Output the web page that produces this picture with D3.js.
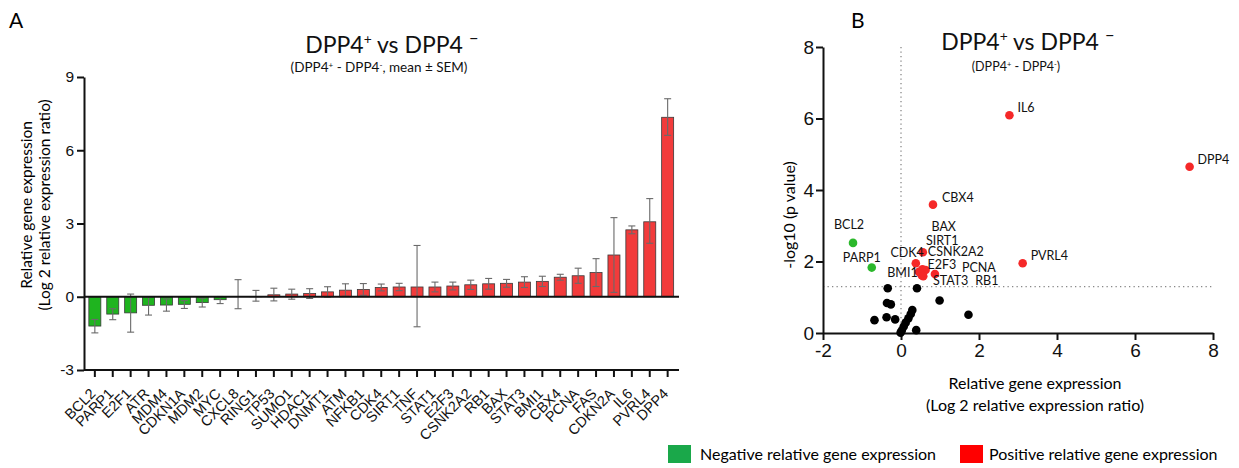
<!DOCTYPE html>
<html>
<head>
<meta charset="utf-8">
<script src="https://cdnjs.cloudflare.com/ajax/libs/d3/7.8.5/d3.min.js"></script>
<style>
  body { margin: 0; background: #fff; }
  svg { font-family: Lato, "Open Sans", sans-serif; }
  .axis path, .axis line { stroke: #111; stroke-width: 2; }
</style>
</head>
<body>
<svg id="chart" width="1239" height="468"></svg>
<script>
// ---- panel A data (bar chart) ----
var genes = ["BCL2", "PARP1", "E2F1", "ATR", "MDM4", "CDKN1A", "MDM2", "MYC", "CXCL8", "RING1",
  "TP53", "SUMO1", "HDAC1", "DNMT1", "ATM", "NFKB1", "CDK4", "SIRT1", "TNF", "STAT1", "E2F3",
  "CSNK2A2", "RB1", "BAX", "STAT3", "BMI1", "CBX4", "PCNA", "FAS", "CDKN2A", "IL6", "PVRL4", "DPP4"];
var means = [-1.20, -0.71, -0.66, -0.35, -0.34, -0.31, -0.24, -0.12, 0.00, 0.01,
  0.08, 0.11, 0.13, 0.20, 0.27, 0.30, 0.38, 0.40, 0.40, 0.40, 0.44,
  0.49, 0.53, 0.55, 0.60, 0.63, 0.80, 0.86, 0.99, 1.71, 2.74, 3.07, 7.35];
var errLow = [0.28, 0.23, 0.79, 0.40, 0.25, 0.17, 0.18, 0.16, 0.49, 0.19,
  0.25, 0.21, 0.20, 0.21, 0.25, 0.24, 0.14, 0.15, 1.63, 0.20, 0.16,
  0.19, 0.22, 0.16, 0.22, 0.21, 0.12, 0.31, 0.57, 1.53, 0.16, 0.88, 0.74];
var errHigh = [0.27, 0.22, 0.77, 0.33, 0.25, 0.15, 0.18, 0.13, 0.70, 0.25,
  0.27, 0.20, 0.20, 0.21, 0.26, 0.24, 0.14, 0.15, 1.70, 0.20, 0.16,
  0.19, 0.22, 0.16, 0.22, 0.21, 0.12, 0.31, 0.57, 1.53, 0.16, 0.95, 0.76];
var barTicks = [-3, 0, 3, 6, 9];

// ---- panel B data (volcano plot) ----
var sigGenes = ["BCL2", "PARP1", "CDK4", "SIRT1", "BAX", "CSNK2A2", "E2F3", "PCNA", "BMI1",
  "STAT3", "RB1", "CBX4", "IL6", "PVRL4", "DPP4"];
var sigX = [-1.23, -0.75, 0.38, 0.46, 0.55, 0.56, 0.63, 0.87, 0.53, 0.51, 0.57, 0.82, 2.78, 3.12, 7.40];
var sigY = [2.52, 1.83, 1.95, 1.71, 1.78, 2.26, 1.76, 1.65, 1.62, 1.67, 1.59, 3.59, 6.09, 1.95, 4.65];
var nsX = [-0.34, 0.41, 0.99, -0.36, -0.26, -0.68, -0.37, -0.15, 1.73, 0.39, 0.29, 0.25, 0.19, 0.12, 0.07, 0.02, -0.01];
var nsY = [1.25, 1.25, 0.91, 0.84, 0.80, 0.36, 0.44, 0.38, 0.51, 0.08, 0.64, 0.53, 0.41, 0.29, 0.18, 0.07, 0.01];
var volcanoXTicks = [-2, 0, 2, 4, 6, 8];
var volcanoYTicks = [0, 2, 4, 6, 8];
var pCutoff = 1.3;

var RED = "#f23b3b", GREEN = "#1fb41f";
var plain = function(d) { return String(d); };   // keep "-" hyphen like the original

var svg = d3.select("#chart");

// title with superscript signs
function addTitle(x, y, size) {
  var t = svg.append("text").attr("x", x).attr("y", y)
    .attr("text-anchor", "middle").style("font-size", size + "px").attr("fill", "#111");
  t.append("tspan").text("DPP4");
  t.append("tspan").text("+").attr("dy", -size * 0.38).style("font-size", (size * 0.6) + "px");
  t.append("tspan").text(" vs DPP4 ").attr("dy", size * 0.38);
  t.append("tspan").text("\u2013").attr("dy", -size * 0.38).style("font-size", (size * 0.75) + "px");
}
function addSub(x, y, rest, size) {
  var t = svg.append("text").attr("x", x).attr("y", y)
    .attr("text-anchor", "middle").style("font-size", size + "px").attr("fill", "#111");
  t.append("tspan").text("(DPP4");
  t.append("tspan").text("+").attr("dy", -4).style("font-size", (size * 0.6) + "px");
  t.append("tspan").text(" - DPP4").attr("dy", 4);
  t.append("tspan").text("-").attr("dy", -4).style("font-size", (size * 0.6) + "px");
  t.append("tspan").text(rest).attr("dy", 4);
}

// ================= Panel A =================
svg.append("text").attr("x", 9).attr("y", 28).text("A").style("font-size", "21px");
addTitle(392, 53, 23);
addSub(379, 72, ", mean \u00b1  SEM)", 13.5);

var x = d3.scaleBand()
  .domain(genes)
  .range([85.9, 676.6])
  .paddingInner(0.33)
  .paddingOuter(0.165);

var y = d3.scaleLinear().domain([-3, 9]).range([370, 77]);

var barData = genes.map(function(g, i) {
  return { gene: g, value: means[i], lo: errLow[i], hi: errHigh[i] };
});

// bars
svg.append("g").selectAll("rect")
  .data(barData)
  .enter().append("rect")
  .attr("x", function(d) { return x(d.gene); })
  .attr("width", x.bandwidth())
  .attr("y", function(d) { return y(Math.max(0, d.value)); })
  .attr("height", function(d) { return Math.abs(y(d.value) - y(0)); })
  .attr("fill", function(d) { return d.value < 0 ? GREEN : RED; })
  .attr("stroke", "#3a3a3a")
  .attr("stroke-width", 0.8);

// error bars
var eb = svg.append("g").attr("stroke", "#6a6a6a").attr("stroke-width", 1.1);
barData.forEach(function(d) {
  var cx = x(d.gene) + x.bandwidth() / 2;
  var top = y(d.value + d.hi), bot = y(d.value - d.lo);
  eb.append("line").attr("x1", cx).attr("x2", cx).attr("y1", top).attr("y2", bot);
  eb.append("line").attr("x1", cx - 3.5).attr("x2", cx + 3.5).attr("y1", top).attr("y2", top);
  eb.append("line").attr("x1", cx - 3.5).attr("x2", cx + 3.5).attr("y1", bot).attr("y2", bot);
});

// zero line
svg.append("line").attr("x1", 84).attr("x2", 679).attr("y1", y(0)).attr("y2", y(0))
  .attr("stroke", "#111").attr("stroke-width", 2);

// y axis
svg.append("g").attr("class", "axis")
  .attr("transform", "translate(84,0)")
  .call(d3.axisLeft(y).tickValues(barTicks).tickFormat(plain).tickSize(7).tickSizeOuter(0).tickPadding(3))
  .selectAll("text").style("font-size", "15.5px").attr("fill", "#111");

// x axis
var xAxisG = svg.append("g").attr("class", "axis")
  .attr("transform", "translate(0,370)")
  .call(d3.axisBottom(x).tickSize(7).tickSizeOuter(0));
xAxisG.select(".domain").attr("d", "M84,0H679");
xAxisG.selectAll("text")
  .style("font-size", "14.5px").attr("fill", "#111")
  .attr("text-anchor", "end")
  .attr("x", 0).attr("y", 0)
  .attr("dy", "0.35em")
  .attr("transform", "translate(-2,21) rotate(-45)");

// y title
svg.append("text").attr("transform", "translate(32,205) rotate(-90)")
  .attr("text-anchor", "middle").style("font-size", "15.5px").text("Relative gene expression");
svg.append("text").attr("transform", "translate(50,205) rotate(-90)")
  .attr("text-anchor", "middle").style("font-size", "15.5px").text("(Log 2 relative expression ratio)");

// ================= Panel B =================
svg.append("text").attr("x", 851).attr("y", 28).text("B").style("font-size", "21px");
addTitle(1028, 50, 23);
addSub(1016, 71, ")", 12.5);

var vx = d3.scaleLinear().domain([-2, 8]).range([823, 1213]);
var vy = d3.scaleLinear().domain([0, 8]).range([333, 47]);

// dotted threshold lines
svg.append("line").attr("x1", vx(0)).attr("x2", vx(0)).attr("y1", vy(8)).attr("y2", vy(0))
  .attr("stroke", "#888").attr("stroke-width", 1.3).attr("stroke-dasharray", "1.3,3.2");
svg.append("line").attr("x1", vx(-2)).attr("x2", vx(8)).attr("y1", vy(pCutoff)).attr("y2", vy(pCutoff))
  .attr("stroke", "#888").attr("stroke-width", 1.3).attr("stroke-dasharray", "1.3,3.2");

// axes
svg.append("g").attr("class", "axis").attr("transform", "translate(823,0)")
  .call(d3.axisLeft(vy).tickValues(volcanoYTicks).tickFormat(plain).tickSize(7).tickSizeOuter(0).tickPadding(2))
  .selectAll("text").style("font-size", "19px").attr("fill", "#111");
svg.append("g").attr("class", "axis").attr("transform", "translate(0,333)")
  .call(d3.axisBottom(vx).tickValues(volcanoXTicks).tickFormat(plain).tickSize(7).tickSizeOuter(0).tickPadding(4))
  .selectAll("text").style("font-size", "19px").attr("fill", "#111");
svg.selectAll(".axis path, .axis line").attr("stroke-width", 2.3);

// non-significant points
svg.append("g").selectAll("circle")
  .data(nsX.map(function(v, i) { return [v, nsY[i]]; }))
  .enter().append("circle")
  .attr("cx", function(d) { return vx(d[0]); })
  .attr("cy", function(d) { return vy(d[1]); })
  .attr("r", 4.3).attr("fill", "#000");

// significant points
var sigData = sigGenes.map(function(g, i) { return { gene: g, x: sigX[i], y: sigY[i] }; });
svg.append("g").selectAll("circle")
  .data(sigData)
  .enter().append("circle")
  .attr("cx", function(d) { return vx(d.x); })
  .attr("cy", function(d) { return vy(d.y); })
  .attr("r", 4.3)
  .attr("fill", function(d) { return d.x < 0 ? "#2bb82b" : "#f52828"; });

// label placement (dx, dy, anchor) relative to each point
var labelPos = {
  BCL2: [-19, -14, "start"], PARP1: [9, -6, "end"], CDK4: [8, -6, "end"],
  SIRT1: [7, -27, "start"], BAX: [9, -38, "start"], CSNK2A2: [5, 4, "start"],
  E2F3: [2, -1, "start"], PCNA: [27, -2, "start"], BMI1: [-4, 2, "end"],
  STAT3: [12, 12, "start"], RB1: [52, 9, "start"], CBX4: [9, -3, "start"],
  IL6: [8, -3, "start"], PVRL4: [8, -3, "start"], DPP4: [8, -3, "start"]
};
svg.append("g").selectAll("text")
  .data(sigData)
  .enter().append("text")
  .attr("x", function(d) { return vx(d.x) + labelPos[d.gene][0]; })
  .attr("y", function(d) { return vy(d.y) + labelPos[d.gene][1]; })
  .attr("text-anchor", function(d) { return labelPos[d.gene][2]; })
  .style("font-size", "12.5px").attr("fill", "#111")
  .text(function(d) { return d.gene; });

// axis titles
svg.append("text").attr("x", 1035).attr("y", 389).attr("text-anchor", "middle")
  .style("font-size", "16px").text("Relative gene expression");
svg.append("text").attr("x", 1035).attr("y", 411).attr("text-anchor", "middle")
  .style("font-size", "16px").text("(Log 2 relative expression ratio)");
svg.append("text").attr("transform", "translate(795,215) rotate(-90)")
  .attr("text-anchor", "middle").style("font-size", "16px").text("-log10 (p value)");

// ================= legend =================
svg.append("rect").attr("x", 668).attr("y", 445).attr("width", 23).attr("height", 18).attr("fill", "#1aa84a");
svg.append("text").attr("x", 700).attr("y", 460).style("font-size", "16px").text("Negative relative gene expression");
svg.append("rect").attr("x", 960).attr("y", 445).attr("width", 23).attr("height", 18).attr("fill", "#ff0000");
svg.append("text").attr("x", 989).attr("y", 460).style("font-size", "16px").text("Positive relative gene expression");
</script>
</body>
</html>
